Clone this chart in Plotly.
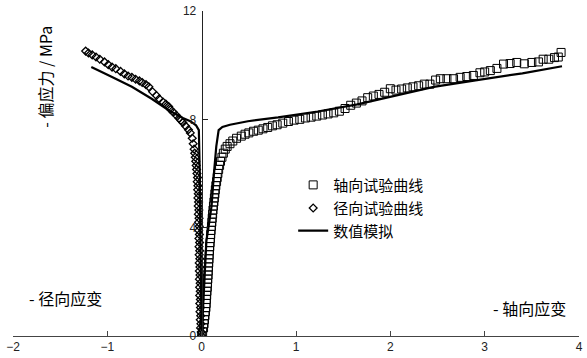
import plotly.graph_objects as go

# Axial experimental curve (squares): axial strain, deviatoric stress
axial_x = [0.0, 0.01, 0.02, 0.025, 0.03, 0.035, 0.04, 0.045, 0.048, 0.05, 0.053, 0.056,
           0.06, 0.062, 0.065, 0.068, 0.07, 0.072, 0.075, 0.078, 0.08, 0.083, 0.086,
           0.09, 0.093, 0.096, 0.1, 0.104, 0.108, 0.112, 0.116, 0.12, 0.125, 0.13,
           0.135, 0.14, 0.145, 0.15, 0.158, 0.165, 0.172, 0.18, 0.19, 0.2, 0.215, 0.23,
           0.25, 0.27, 0.3, 0.33, 0.37, 0.42,
           0.46, 0.5, 0.55, 0.6, 0.65, 0.7, 0.75, 0.8, 0.86, 0.92, 0.98, 1.04, 1.1,
           1.16, 1.22, 1.28, 1.34, 1.4, 1.46, 1.52, 1.58, 1.64, 1.7, 1.76, 1.82, 1.88,
           1.94, 2.0, 2.06, 2.12, 2.18, 2.24, 2.3, 2.36, 2.42, 2.48, 2.53, 2.6, 2.67,
           2.74, 2.81, 2.88, 2.95, 3.0, 3.06, 3.13, 3.2, 3.27, 3.34, 3.42, 3.5, 3.57,
           3.62, 3.68, 3.74, 3.78, 3.81]
axial_y = [0.0, 0.15, 0.3, 0.45, 0.6, 0.75, 0.9, 1.05, 1.2, 1.35, 1.5, 1.65,
           1.8, 1.95, 2.1, 2.25, 2.4, 2.55, 2.7, 2.85, 3.0, 3.15, 3.3,
           3.45, 3.6, 3.75, 3.9, 4.05, 4.2, 4.35, 4.5, 4.65, 4.8, 4.95,
           5.1, 5.25, 5.4, 5.55, 5.7, 5.85, 6.0, 6.15, 6.3, 6.45, 6.6, 6.75,
           6.9, 7.0, 7.1, 7.2, 7.3, 7.38,
           7.45, 7.5, 7.56, 7.6, 7.65, 7.7, 7.76, 7.8, 7.86, 7.92, 7.97, 8.0, 8.05,
           8.08, 8.12, 8.16, 8.2, 8.24, 8.3, 8.4, 8.52, 8.6, 8.68, 8.8, 8.86, 8.92,
           9.0, 9.13, 9.08, 9.12, 9.16, 9.2, 9.24, 9.3, 9.3, 9.45, 9.5, 9.5, 9.5,
           9.55, 9.58, 9.62, 9.72, 9.75, 9.8, 9.88, 10.04, 10.06, 10.1, 10.05, 10.1, 10.12,
           10.22, 10.22, 10.28, 10.3, 10.47]

# Radial experimental curve (diamonds): radial strain, deviatoric stress
radial_x = [0.0, -0.005, -0.012, -0.008, -0.015, -0.01, -0.018, -0.012, -0.02, -0.014,
            -0.021, -0.015, -0.022, -0.016, -0.024, -0.018, -0.025, -0.019, -0.026, -0.02,
            -0.027, -0.021, -0.028, -0.022, -0.029, -0.024, -0.031, -0.026, -0.033, -0.028,
            -0.035, -0.03, -0.037, -0.033, -0.04, -0.036, -0.043, -0.04, -0.047, -0.044,
            -0.05, -0.054, -0.058, -0.063, -0.068, -0.074, -0.08, -0.09, -0.1,
            -0.12, -0.14, -0.17, -0.2, -0.22, -0.24, -0.27, -0.3, -0.33, -0.35, -0.38,
            -0.41, -0.45, -0.48, -0.52, -0.56, -0.59, -0.63, -0.66, -0.7, -0.74, -0.78,
            -0.82, -0.86, -0.91, -0.95, -0.99, -1.03, -1.08, -1.12, -1.16, -1.2, -1.23]
radial_y = [0.0, 0.15, 0.3, 0.45, 0.6, 0.75, 0.9, 1.05, 1.2, 1.35,
            1.5, 1.65, 1.8, 1.95, 2.1, 2.25, 2.4, 2.55, 2.7, 2.85,
            3.0, 3.15, 3.3, 3.45, 3.6, 3.75, 3.9, 4.05, 4.2, 4.35,
            4.5, 4.65, 4.8, 4.95, 5.1, 5.25, 5.4, 5.55, 5.7, 5.85,
            6.0, 6.15, 6.3, 6.45, 6.6, 6.75, 6.9, 7.1, 7.3,
            7.5, 7.62, 7.75, 7.88, 7.96, 8.04, 8.15, 8.26, 8.36, 8.47, 8.56,
            8.64, 8.76, 8.88, 9.02, 9.2, 9.28, 9.36, 9.42, 9.48, 9.55, 9.6,
            9.68, 9.77, 9.87, 9.93, 10.02, 10.12, 10.22, 10.3, 10.38, 10.45, 10.52]

# Numerical simulation, axial branch
sim_ax_x = [0.0, 0.02, 0.05, 0.08, 0.105, 0.13, 0.155, 0.18, 0.22, 0.3, 0.39, 0.49,
            0.81, 1.23, 1.65, 2.0, 2.46, 2.92, 3.4, 3.82]
sim_ax_y = [0.0, 1.5, 3.5, 4.2, 4.8, 6.0, 7.0, 7.6, 7.72, 7.8, 7.85, 7.93,
            8.07, 8.29, 8.55, 8.82, 9.2, 9.45, 9.7, 9.96]

# Numerical simulation, radial branch
sim_rad_x = [0.0, -0.01, -0.015, -0.02, -0.025, -0.03, -0.06, -0.12, -0.2, -0.35,
             -0.53, -0.74, -0.95, -1.17]
sim_rad_y = [0.0, 2.0, 4.0, 6.0, 7.0, 7.6, 7.78, 7.93, 8.05, 8.33,
             8.76, 9.2, 9.56, 9.93]

x_ticks = [-2, -1, 0, 1, 2, 3, 4]
y_ticks = [0, 4, 8, 12]

CJK = "Noto Sans CJK SC"
NUM = "Liberation Sans, Arial"
legfont = dict(family=CJK, size=15, color="black")

fig = go.Figure()
fig.add_trace(go.Scatter(
    x=axial_x, y=axial_y, mode="markers", name="轴向试验曲线", legend="legend",
    marker=dict(symbol="square-open", size=8, color="black", line=dict(width=1))))
fig.add_trace(go.Scatter(
    x=radial_x, y=radial_y, mode="markers", name="径向试验曲线", legend="legend2",
    marker=dict(symbol="diamond-open", size=6, color="black", line=dict(width=1.3))))
fig.add_trace(go.Scatter(
    x=sim_ax_x, y=sim_ax_y, mode="lines", name="数值模拟", legend="legend3",
    line=dict(color="black", width=2.2)))
fig.add_trace(go.Scatter(
    x=sim_rad_x, y=sim_rad_y, mode="lines", name="数值模拟", legend="legend3",
    showlegend=False, line=dict(color="black", width=2.2)))

fig.update_layout(
    width=587, height=358,
    margin=dict(l=13, r=4, t=11, b=17),
    paper_bgcolor="white", plot_bgcolor="white",
    showlegend=True,
    legend=dict(x=0.495, y=0.515, xanchor="left", yanchor="top",
                bgcolor="rgba(0,0,0,0)", font=legfont),
    legend2=dict(x=0.495, y=0.444, xanchor="left", yanchor="top",
                 bgcolor="rgba(0,0,0,0)", font=legfont),
    legend3=dict(x=0.495, y=0.374, xanchor="left", yanchor="top",
                 bgcolor="rgba(0,0,0,0)", font=legfont),
    xaxis=dict(range=[-2, 4], tickvals=x_ticks, showgrid=False, zeroline=False,
               showline=True, linecolor="#444", linewidth=1,
               ticks="inside", ticklen=5, tickcolor="#444",
               tickfont=dict(family=NUM, size=12, color="#222")),
    yaxis=dict(range=[0, 12], tickvals=y_ticks, showgrid=False, zeroline=False,
               anchor="free", position=1/3,
               showline=True, linecolor="#222", linewidth=1,
               ticks="inside", ticklen=5, tickcolor="#222", ticklabelstandoff=3,
               tickfont=dict(family=NUM, size=12, color="#222")),
    annotations=[
        dict(text="- 偏应力 / MPa", xref="paper", yref="paper", x=0.056, y=0.797,
             textangle=-90, showarrow=False, xanchor="center", yanchor="middle",
             font=dict(family=CJK, size=16, color="black")),
        dict(text="- 径向应变", xref="paper", yref="paper", x=0.093, y=0.118,
             showarrow=False, xanchor="center", yanchor="middle",
             font=dict(family=CJK, size=16, color="black")),
        dict(text="- 轴向应变", xref="paper", yref="paper", x=0.912, y=0.085,
             showarrow=False, xanchor="center", yanchor="middle",
             font=dict(family=CJK, size=16, color="black")),
    ],
)

fig.write_html("out.html")
